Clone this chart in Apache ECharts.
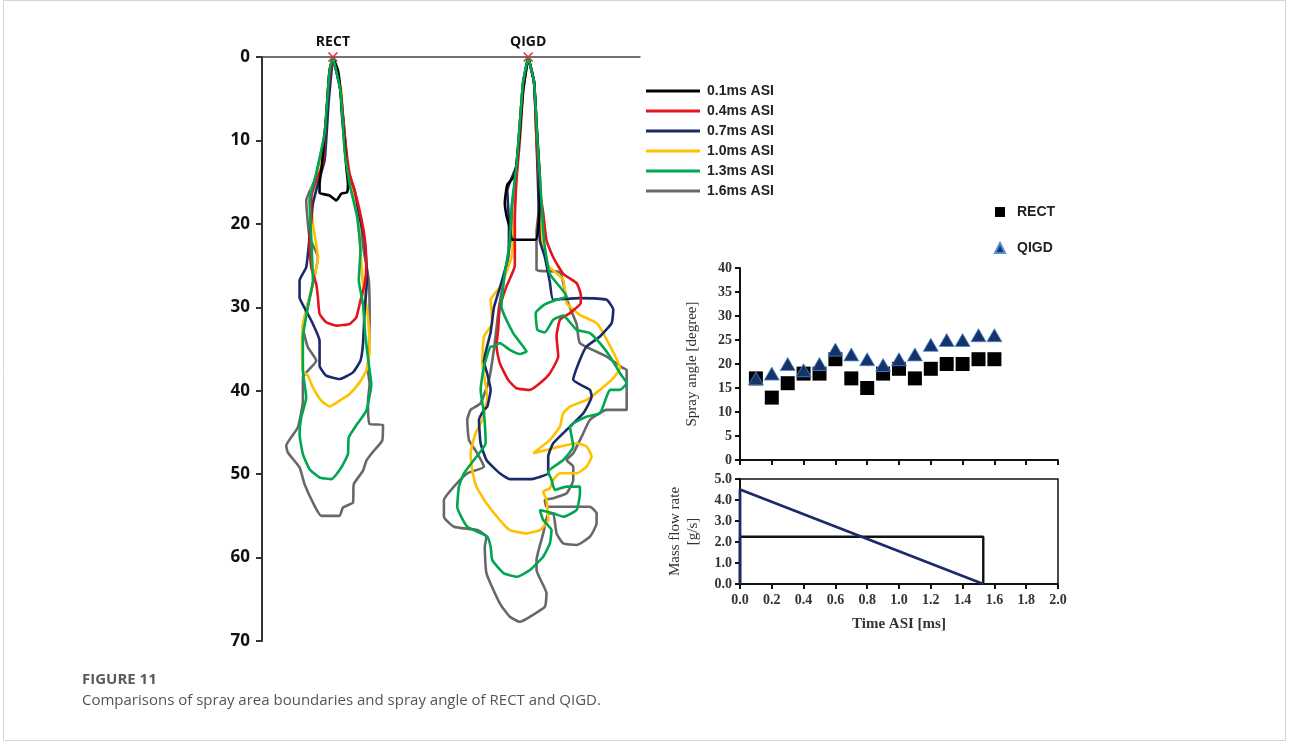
<!DOCTYPE html>
<html>
<head>
<meta charset="utf-8">
<script src="https://cdn.jsdelivr.net/npm/echarts@6/dist/echarts.min.js"></script>
<style>
  html, body { margin: 0; padding: 0; background: #fff; }
  #chart { width: 1290px; height: 744px; }
</style>
</head>
<body>
<div id="chart"></div>
<script>
// spray boundary times
const times = ['0.1ms ASI', '0.4ms ASI', '0.7ms ASI', '1.0ms ASI', '1.3ms ASI', '1.6ms ASI']
const timeColors = ['#000000', '#e3141c', '#1b2a6b', '#ffc000', '#00a650', '#686868']

// nozzle positions on the image [mm]
const nozzleX = { RECT: 8.5, QIGD: 31.9 }

// boundaries: [lateral offset mm, depth mm]
const rectBoundary = [
  [[0,0],[0.6,1.6],[0.9,4],[1.1,7.2],[1.4,10.4],[1.6,13.2],[1.8,15.2],[1.7,16.2],[1,16.4],[0.4,17.2],[-0.4,16.6],[-1.6,16.3],[-1.6,15.2],[-1.3,12.8],[-1.1,10.4],[-0.8,7.2],[-0.6,4],[-0.4,1.6],[0,0]],
  [[0,0],[0.8,3.2],[1.2,7.2],[1.6,11.2],[2,14],[2.6,16],[3.2,18.4],[3.8,21.6],[4,24.8],[3.8,27.2],[3.2,29.6],[2.8,31.2],[2,32],[0.4,32.2],[-0.8,31.8],[-1.6,30.8],[-1.8,28.8],[-2,27.2],[-2.6,25.2],[-2.8,22.4],[-2.6,19.2],[-2.6,16.8],[-2,14.8],[-1.2,12.8],[-0.8,7.2],[-0.4,2.4],[0,0]],
  [[0,0],[0.9,4],[1.4,9.2],[1.8,13.6],[2.6,16],[3.2,19.2],[3.8,22],[4.1,26.4],[3.8,30.4],[3.6,34.4],[3.3,36.4],[2.4,37.8],[0.8,38.6],[-0.8,38.2],[-1.6,37],[-1.6,35.2],[-1.6,34],[-2.4,32],[-3,30.8],[-4,28.8],[-4,26.8],[-3.2,25.2],[-2.8,21.6],[-2.4,17.6],[-1.8,15.2],[-1,12.4],[-0.5,5.2],[0,0]],
  [[0,0],[1,4],[1.4,11.2],[2,14.4],[3,18.4],[3.3,23.2],[3.6,27.2],[4.2,31.2],[4.4,35.2],[4,37.6],[3.2,39],[2,40.4],[0.8,41.2],[-0.4,41.9],[-1.4,41.2],[-2.4,39.6],[-3,38.2],[-3.6,37.6],[-3.7,35.2],[-3.6,32],[-2.6,28],[-1.8,24],[-2.4,20],[-2.6,16],[-1.6,14],[-0.8,7.2],[-0.4,1.6],[0,0]],
  [[0,0],[0.9,4],[1.4,11.2],[2,15.2],[2.9,19.2],[3.3,23.2],[3.1,26.8],[3.6,29.6],[3.9,33.6],[4.4,37.6],[4.6,39.2],[4,42.4],[2.9,44],[1.9,45.6],[1.8,47.6],[1,49.2],[-0.2,50.6],[-1.6,50.4],[-2.8,49.4],[-3.6,47.6],[-4,45.2],[-3.8,43.2],[-3.2,40.8],[-3.6,37.6],[-3.6,33.6],[-3,30],[-2.4,26.8],[-2.6,21.6],[-2.8,17.2],[-2,14],[-1,9.2],[-0.4,1.6],[0,0]],
  [[0,0],[0.9,4],[1.5,11.2],[2,15.2],[3.1,19.2],[3.7,23.2],[4.3,26.8],[4.4,31.2],[4.3,35.2],[4.2,37.6],[4.4,39.2],[4.2,41.2],[4.4,44],[6,44.1],[5.9,46],[4.9,47.2],[4,48.4],[3.6,49.6],[2.5,51.2],[2.4,53.4],[1.2,54],[0.8,55],[-1.4,55],[-2.4,53.4],[-3.4,51.2],[-4,49.2],[-5.4,47.4],[-5.6,46.6],[-4.2,44.4],[-3.6,41.2],[-3.6,38.4],[-2,36.4],[-3,34.8],[-3.6,32.4],[-2.4,27.2],[-1.8,24],[-2.8,21.6],[-3.2,17.2],[-2.2,14.8],[-1,9.2],[-0.4,1.6],[0,0]]
]

const qigdBoundary = [
  [[0,0],[0.7,3],[1,8],[1.3,13],[1.4,17],[1.2,20.5],[0.9,21.9],[-1.9,21.9],[-2.2,20.5],[-2.6,19],[-2.8,17.5],[-2.5,15.3],[-1.6,14.2],[-1.1,10],[-0.6,4],[0,0]],
  [[0,0],[0.7,3],[1,10],[1.4,16],[1.8,18.7],[2.2,22],[3,24],[4.2,26],[5.8,27.1],[6.3,28.5],[6.3,29.5],[5,30.7],[3.8,31.5],[3.4,33.5],[3.6,35.9],[2.6,37.9],[1.4,39.1],[0.2,39.9],[-1.4,39.7],[-2.4,38.7],[-3.4,36.7],[-3.8,34.7],[-3.6,32.7],[-3.4,30],[-2.6,27.5],[-1.6,25],[-1.6,20],[-1.4,14.7],[-1,10],[-0.6,4],[0,0]],
  [[0,0],[0.7,3],[1,10],[1.2,16],[1.4,22],[2,24],[2.6,27],[3,29.1],[6.2,28.9],[9.4,29.1],[10.2,30.3],[10,31.9],[8.6,33.5],[7,34.7],[6.2,36.3],[5.4,38.7],[7.4,39.9],[7.6,40.7],[6.6,42.7],[4.6,44.7],[3,46.3],[2.4,47.9],[2.4,49.9],[1.5,50.3],[0.2,50.6],[-2.2,50.6],[-3.4,49.9],[-5,48.3],[-5.7,46.3],[-5.9,43.5],[-5.3,42.3],[-4.9,41.9],[-4.5,39.9],[-4.9,38],[-5.3,36.5],[-4.5,33],[-4.1,30],[-3.2,27],[-2.4,24],[-2.3,20],[-2.5,16],[-1.4,13],[-1,8],[-0.6,3],[0,0]],
  [[0,0],[0.7,3],[1.1,10],[1.4,16],[1.6,22],[2.4,25],[4.2,26.7],[4.6,29.5],[6.2,30.9],[8.2,31.9],[9.2,33.5],[11,37.3],[10.2,38.5],[8.6,39.9],[7,41.1],[5,41.9],[4.2,42.7],[3.8,44.3],[2.6,45.9],[0.6,47.5],[2.2,47.1],[3.8,46.7],[5.8,46.3],[7,46.7],[7.6,47.9],[7,49.1],[5.8,49.9],[3.8,49.9],[3,50.7],[2.6,51.7],[1.8,52.1],[2.2,53.1],[2.4,55.5],[1.4,56.7],[-0.2,57.1],[-2.2,56.7],[-3.4,55.5],[-5,53.5],[-6.2,51.5],[-6.7,49.5],[-6.9,47.5],[-6.3,45.1],[-5.5,43.5],[-4.9,40.7],[-5.5,36.7],[-5.3,33.5],[-4.3,31.9],[-4.5,29.1],[-3.3,27.5],[-2,24],[-1.7,20],[-1.4,14],[-1,8],[-0.6,3],[0,0]],
  [[0,0],[0.7,3],[1.1,10],[1.5,16],[1.9,22],[2.6,26],[4.6,28.7],[3.4,29.1],[1.9,29.7],[0.9,30.7],[1.1,32.7],[2,33],[3,31.5],[4.2,31],[5.8,32.7],[7.4,33.1],[8.6,34.3],[9.8,35.9],[11,37.9],[11.8,39.1],[11,39.9],[9.8,39.9],[9.4,40.7],[8.6,42.7],[7,43.1],[5,44.3],[5.4,46.7],[4.2,48.3],[2.4,49.7],[2.8,50.7],[3.2,51.9],[4.6,51.5],[6.2,51.5],[6.2,52.3],[5.8,54.3],[4.2,55.1],[3,54.7],[1.4,54.3],[1.8,55.5],[2.8,56.7],[2.6,58.3],[1.8,59.9],[0.2,61.5],[-1.3,62.3],[-2.9,61.9],[-4.3,60.3],[-4.5,58.7],[-4.9,57.5],[-7.3,56.3],[-8.5,53.9],[-8.3,51.5],[-7.7,49.9],[-6.5,48.3],[-5.1,46.3],[-5.3,42.7],[-5.7,39.9],[-5.3,37.1],[-4.5,34.7],[-4.3,34.7],[-3.4,34.3],[-2.2,35.1],[-1,35.6],[-0.2,35.3],[-0.6,34.7],[-1.8,33.1],[-3.2,29.9],[-2.9,26.7],[-2.2,22],[-2,18],[-1.4,13],[-1,8],[-0.6,3],[0,0]],
  [[0,0],[0.7,3],[1.1,10],[1.5,16],[1.2,19],[1,21],[1,25.5],[3.8,25.8],[4.6,29],[5.8,32],[6.2,34.3],[9.4,35.9],[11.4,37.3],[11.8,37.5],[11.8,42.3],[9.4,42.3],[7.4,43.5],[6.6,45.1],[5.4,47.5],[4.6,48.3],[5.4,49.1],[5.4,50.7],[4.6,52.3],[3,52.9],[2,53.1],[2.2,53.9],[5,53.9],[7.4,53.9],[8.2,54.7],[8.2,55.9],[7.4,57.5],[5.8,58.5],[4.2,58.3],[3.4,57.1],[3,54.7],[2.4,54.7],[1.8,57.1],[1,60.3],[1,61.5],[2.2,64.3],[2,65.9],[0.2,67.1],[-1,67.7],[-2.2,67.1],[-3.4,65.5],[-5,61.9],[-5.2,58.7],[-5,57.5],[-6.1,56.7],[-8.9,56.3],[-10.1,55.1],[-10.1,53.1],[-8.9,51.5],[-7.3,49.9],[-5.3,49.1],[-6.1,47.5],[-7.1,45.9],[-7.3,43.5],[-6.9,42.3],[-5.7,41.5],[-4.7,38.7],[-4.1,35],[-3.5,30],[-2.8,26],[-2.1,22],[-1.9,18],[-1.4,13],[-1,8],[-0.6,3],[0,0]]
]

// spray angle vs time
const timeAsi = [0.1, 0.2, 0.3, 0.4, 0.5, 0.6, 0.7, 0.8, 0.9, 1.0, 1.1, 1.2, 1.3, 1.4, 1.5, 1.6]
const rectAngle = [17, 13, 16, 18, 18, 21, 17, 15, 18, 19, 17, 19, 20, 20, 21, 21]
const qigdAngle = [17, 18, 20, 18.7, 20, 23, 22, 21, 19.8, 21, 22, 24, 25, 25, 26, 26]

// mass flow rate profiles [time ms, g/s]
const rectFlow = [[0, 0], [0, 2.25], [1.53, 2.25], [1.53, 0]]
const qigdFlow = [[0, 0], [0, 4.5], [1.53, 0]]

const chart = echarts.init(document.getElementById('chart'))

const serif = 'Liberation Serif'
const sans = 'Open Sans'

const boundarySeries = []
const drawOrder = [5, 3, 2, 1, 0, 4]
drawOrder.forEach(i => {
  [['RECT', rectBoundary], ['QIGD', qigdBoundary]].forEach(([key, list]) => {
    boundarySeries.push({
      type: 'line',
      name: times[i],
      xAxisIndex: 0,
      yAxisIndex: 0,
      data: list[i].map(p => [nozzleX[key] + p[0], p[1]]),
      showSymbol: false,
      symbol: 'none',
      smooth: 0.15,
      color: timeColors[i],
      lineStyle: { width: 2.6, color: timeColors[i] }
    })
  })
})

const option = {
  animation: false,
  backgroundColor: '#fff',
  grid: [
    { left: 262, top: 57, width: 378, height: 584 },
    { left: 740, top: 268, width: 318, height: 192 },
    { left: 740, top: 479, width: 318, height: 105, show: true, borderColor: '#111', borderWidth: 1.5 }
  ],
  legend: [
    {
      data: times,
      orient: 'vertical',
      left: 641,
      top: 79,
      itemWidth: 54,
      itemHeight: 3,
      itemGap: 6,
      icon: 'rect',
      textStyle: { fontFamily: 'Liberation Sans', fontWeight: 'bold', fontSize: 14, color: '#222', padding: [0, 0, 0, 2] }
    },
    {
      data: [
        { name: 'RECT', icon: 'rect' },
        { name: 'QIGD', icon: 'triangle' }
      ],
      orient: 'vertical',
      left: 989,
      top: 200,
      itemWidth: 10,
      itemHeight: 10,
      itemGap: 22,
      textStyle: { fontFamily: 'Liberation Sans', fontWeight: 'bold', fontSize: 14, color: '#222', padding: [0, 0, 0, 7] }
    }
  ],
  xAxis: [
    {
      gridIndex: 0, type: 'value', position: 'top', min: 0, max: 45.3,
      axisLine: { show: true, lineStyle: { color: '#444', width: 1.5 } },
      axisTick: { show: false }, axisLabel: { show: false }, splitLine: { show: false }
    },
    {
      gridIndex: 1, type: 'value', min: 0, max: 2, interval: 0.2,
      axisLine: { show: true, onZero: false, lineStyle: { color: '#111', width: 2 } },
      axisTick: { show: true, length: 5, lineStyle: { color: '#111', width: 2 } },
      axisLabel: { show: false }, splitLine: { show: false }
    },
    {
      gridIndex: 2, type: 'value', min: 0, max: 2, interval: 0.2,
      name: 'Time ASI [ms]', nameLocation: 'middle', nameGap: 33,
      nameTextStyle: { fontFamily: serif, fontWeight: 'bold', fontSize: 15, color: '#333' },
      axisLine: { show: true, onZero: false, lineStyle: { color: '#111', width: 2 } },
      axisTick: { show: true, length: 5, lineStyle: { color: '#111', width: 2 } },
      axisLabel: { fontFamily: serif, fontWeight: 'bold', fontSize: 14, color: '#333', margin: 9, formatter: v => v.toFixed(1) },
      splitLine: { show: false }
    }
  ],
  yAxis: [
    {
      gridIndex: 0, type: 'value', inverse: true, min: 0, max: 70, interval: 10,
      axisLine: { show: true, lineStyle: { color: '#333', width: 2 } },
      axisTick: { show: true, length: 6, lineStyle: { color: '#333', width: 2 } },
      axisLabel: { fontFamily: sans, fontWeight: 'bold', fontSize: 17, color: '#111', margin: 12 },
      splitLine: { show: false }
    },
    {
      gridIndex: 1, type: 'value', min: 0, max: 40, interval: 5,
      name: 'Spray angle [degree]', nameLocation: 'middle', nameGap: 40,
      nameTextStyle: { fontFamily: serif, fontSize: 15, color: '#333' },
      axisLine: { show: true, lineStyle: { color: '#111', width: 2 } },
      axisTick: { show: true, length: 5, lineStyle: { color: '#111', width: 2 } },
      axisLabel: { fontFamily: serif, fontWeight: 'bold', fontSize: 14, color: '#333', margin: 8 },
      splitLine: { show: false }
    },
    {
      gridIndex: 2, type: 'value', min: 0, max: 5, interval: 1,
      name: 'Mass flow rate\n[g/s]', nameLocation: 'middle', nameGap: 38,
      nameTextStyle: { fontFamily: serif, fontSize: 15, color: '#333', lineHeight: 18 },
      axisLine: { show: true, lineStyle: { color: '#111', width: 2 } },
      axisTick: { show: true, length: 5, lineStyle: { color: '#111', width: 2 } },
      axisLabel: { fontFamily: serif, fontWeight: 'bold', fontSize: 14, color: '#333', margin: 8, formatter: v => v.toFixed(1) },
      splitLine: { show: false }
    }
  ],
  series: [
    ...boundarySeries,
    {
      type: 'scatter',
      name: 'nozzle',
      xAxisIndex: 0,
      yAxisIndex: 0,
      symbol: 'path://M0,0L10,10M10,0L0,10',
      symbolSize: 9,
      itemStyle: { color: 'none', borderColor: '#d33', borderWidth: 1.5, opacity: 1 },
      label: {
        show: true, position: 'top', distance: 1,
        formatter: p => p.name,
        fontFamily: sans, fontWeight: 'bold', fontSize: 14, color: '#111'
      },
      data: [
        { name: 'RECT', value: [nozzleX.RECT, 0] },
        { name: 'QIGD', value: [nozzleX.QIGD, 0] }
      ],
      z: 10
    },
    {
      type: 'scatter',
      name: 'RECT',
      xAxisIndex: 1,
      yAxisIndex: 1,
      symbol: 'rect',
      symbolSize: 14,
      color: '#000',
      itemStyle: { color: '#000', opacity: 1 },
      data: timeAsi.map((t, i) => [t, rectAngle[i]])
    },
    {
      type: 'scatter',
      name: 'QIGD',
      xAxisIndex: 1,
      yAxisIndex: 1,
      symbol: 'triangle',
      symbolSize: [15, 13],
      color: '#15336b',
      itemStyle: { color: '#15336b', borderColor: '#4f8fd0', borderWidth: 0.8, opacity: 1 },
      data: timeAsi.map((t, i) => [t, qigdAngle[i]])
    },
    {
      type: 'line',
      name: 'rect flow',
      xAxisIndex: 2,
      yAxisIndex: 2,
      data: rectFlow,
      showSymbol: false,
      symbol: 'none',
      lineStyle: { color: '#111', width: 2.4 }
    },
    {
      type: 'line',
      name: 'qigd flow',
      xAxisIndex: 2,
      yAxisIndex: 2,
      data: qigdFlow,
      showSymbol: false,
      symbol: 'none',
      lineStyle: { color: '#1b2a6b', width: 2.8 }
    }
  ],
  graphic: [
    {
      type: 'rect',
      shape: { x: 3.5, y: 0.5, width: 1282, height: 740 },
      style: { fill: 'none', stroke: '#d4d4d4', lineWidth: 1 },
      silent: true
    },
    {
      type: 'text', left: 82, top: 672,
      style: { text: 'FIGURE 11', font: 'bold 15px "Open Sans"', fill: '#5a5a5a' }
    },
    {
      type: 'text', left: 82, top: 693,
      style: { text: 'Comparisons of spray area boundaries and spray angle of RECT and QIGD.', font: '15px "Open Sans"', fill: '#555' }
    }
  ]
}

chart.setOption(option)
</script>
</body>
</html>
